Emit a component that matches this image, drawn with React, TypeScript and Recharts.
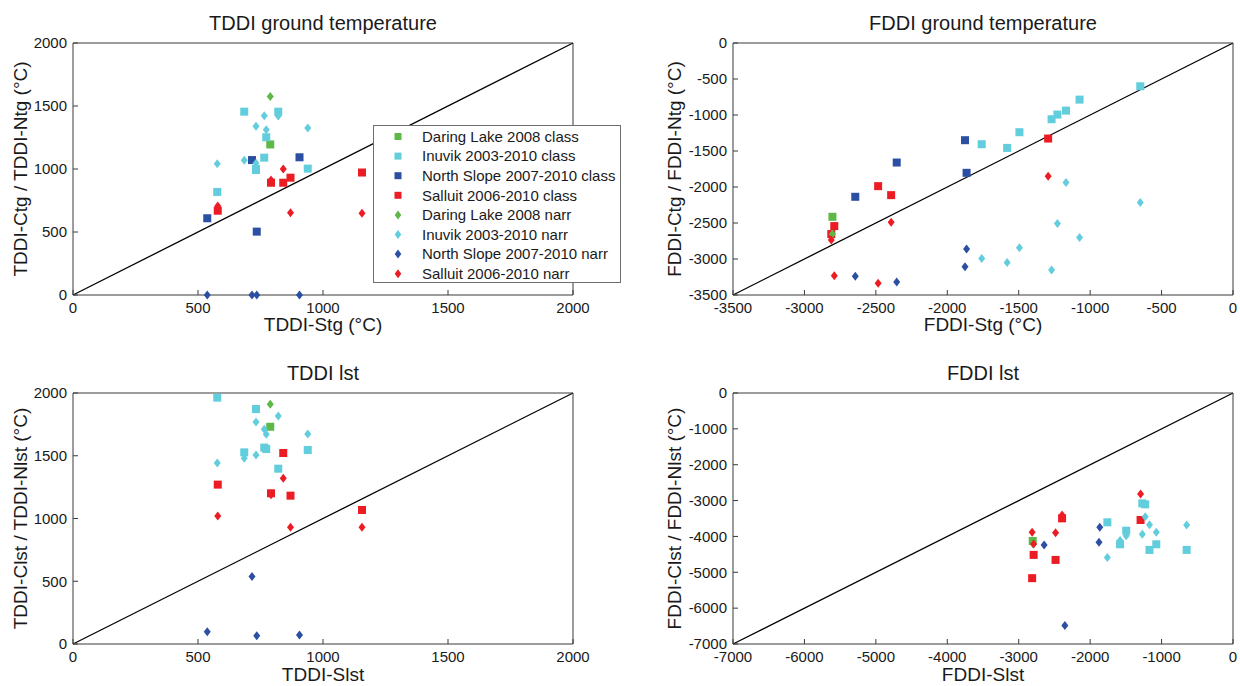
import React from 'react';
import { ScatterChart, Scatter, XAxis, YAxis, ReferenceLine } from 'recharts';

const FONT = '"Liberation Sans", Arial, Helvetica, sans-serif';
const GREEN = '#5db847';
const CYAN = '#62cddc';
const BLUE = '#2b4fa2';
const RED = '#ec1c24';
const AXIS = '#3a3a3a';

// x values (station), shared by the ground and lst panels
const daringTddiS = [789];
const inuvikTddiS = [577, 685, 732, 732, 765, 773, 821, 939];
const northTddiS = [537, 716, 735, 906];
const sallTddiS = [579, 792, 841, 870, 1156];

const daringFddiS = [-2804];
const inuvikFddiS = [-1759, -1581, -1495, -1270, -1229, -1169, -1074, -649];
const northFddiS = [-2644, -2354, -1876, -1865];
const sallFddiS = [-2812, -2791, -2484, -2393, -1294];

// TDDI ground temperature (class = Ctg, narr = Ntg)
const daringTddiCtg = [1195];
const inuvikTddiCtg = [818, 1455, 992, 1000, 1090, 1252, 1455, 1003];
const northTddiCtg = [609, 1071, 503, 1093];
const sallTddiCtg = [669, 891, 891, 931, 972];
const daringTddiNtg = [1575];
const inuvikTddiNtg = [1042, 1069, 1339, 1045, 1423, 1312, 1420, 1325];
const northTddiNtg = [0, 0, 0, 0];
const sallTddiNtg = [706, 913, 1000, 653, 649];

// TDDI lst
const daringTddiClst = [1731];
const inuvikTddiClst = [1963, 1527, 1872, 1872, 1565, 1554, 1397, 1546];
const northTddiClst: (number | null)[] = [null, null, null, null];
const sallTddiClst = [1270, 1201, 1522, 1182, 1068];
const daringTddiNlst = [1910];
const inuvikTddiNlst = [1442, 1480, 1769, 1506, 1711, 1671, 1817, 1673];
const northTddiNlst = [98, 537, 66, 72];
const sallTddiNlst = [1020, 1190, 1320, 930, 930];

// FDDI ground temperature
const daringFddiCtg = [-2414];
const inuvikFddiCtg = [-1406, -1457, -1239, -1059, -994, -939, -786, -601];
const northFddiCtg = [-2136, -1660, -1350, -1803];
const sallFddiCtg = [-2654, -2543, -1988, -2113, -1327];
const daringFddiNtg = [-2654];
const inuvikFddiNtg = [-2992, -3047, -2844, -3154, -2506, -1937, -2700, -2215];
const northFddiNtg = [-3241, -3320, -3107, -2862];
const sallFddiNtg = [-2737, -3232, -3338, -2488, -1850];

// FDDI lst
const daringFddiClst = [-4126];
const inuvikFddiClst = [-3607, -4219, -3839, -3078, -3106, -4376, -4219, -4376];
const northFddiClst: (number | null)[] = [null, null, null, null];
const sallFddiClst = [-5164, -4515, -4655, -3496, -3542];
const daringFddiNlst = [-4200];
const inuvikFddiNlst = [-4590, -4117, -3978, -3941, -3449, -3672, -3885, -3681];
const northFddiNlst = [-4237, -6481, -4163, -3746];
const sallFddiNlst = [-3885, -4209, -3894, -3403, -2819];

const ticks2000 = [0, 500, 1000, 1500, 2000];
const ticks3500 = [-3500, -3000, -2500, -2000, -1500, -1000, -500, 0];
const ticks7000 = [-7000, -6000, -5000, -4000, -3000, -2000, -1000, 0];

const SERIES = [
  { name: 'Daring Lake 2008 class', color: GREEN, marker: 'square' },
  { name: 'Inuvik 2003-2010 class', color: CYAN, marker: 'square' },
  { name: 'North Slope 2007-2010 class', color: BLUE, marker: 'square' },
  { name: 'Salluit 2006-2010 class', color: RED, marker: 'square' },
  { name: 'Daring Lake 2008 narr', color: GREEN, marker: 'diamond' },
  { name: 'Inuvik 2003-2010 narr', color: CYAN, marker: 'diamond' },
  { name: 'North Slope 2007-2010 narr', color: BLUE, marker: 'diamond' },
  { name: 'Salluit 2006-2010 narr', color: RED, marker: 'diamond' },
];

type Pt = { x: number; y: number };
const zip = (xs: number[], ys: (number | null)[]): Pt[] =>
  xs.map((x, i) => ({ x, y: ys[i] })).filter((p) => p.y !== null) as Pt[];

const Square = (props: any) => {
  const { cx, cy, fill } = props;
  return <rect x={cx - 4} y={cy - 4} width={8} height={8} fill={fill} />;
};

const Diamond = (props: any) => {
  const { cx, cy, fill } = props;
  return <polygon points={`${cx},${cy - 4.5} ${cx + 3.5},${cy} ${cx},${cy + 4.5} ${cx - 3.5},${cy}`} fill={fill} />;
};

const tickStyle = { fontSize: 15, fill: '#1a1a1a', fontFamily: FONT };

interface PanelProps {
  left: number;
  top: number;
  height: number;
  margin: { top: number; right: number; bottom: number; left: number };
  domain: [number, number];
  ticks: number[];
  title: string;
  xLabel: string;
  yLabel: string;
  yLabelOffset: number;
  xLabelOffset: number;
  series: Pt[][];
}

// axes are 1px thick so that recharts still draws them; margins are reduced by 1 to compensate
const Panel: React.FC<PanelProps> = (p) => (
  <div style={{ position: 'absolute', left: p.left, top: p.top }}>
    <ScatterChart
      width={620}
      height={p.height}
      margin={{ top: p.margin.top - 1, right: p.margin.right - 1, bottom: p.margin.bottom - 1, left: p.margin.left - 1 }}
    >
      <XAxis
        type="number"
        dataKey="x"
        domain={p.domain}
        ticks={p.ticks}
        height={1}
        tickSize={-5}
        tickMargin={12}
        tick={tickStyle}
        stroke={AXIS}
        interval={0}
        label={{ value: p.xLabel, position: 'bottom', offset: p.xLabelOffset - 1, fontSize: 19, fill: '#1a1a1a', fontFamily: FONT }}
      />
      <YAxis
        type="number"
        dataKey="y"
        domain={p.domain}
        ticks={p.ticks}
        width={1}
        tickSize={-5}
        tickMargin={11}
        tick={tickStyle}
        stroke={AXIS}
        interval={0}
        label={{ value: p.yLabel, position: 'left', angle: -90, offset: p.yLabelOffset - 1, fontSize: 19, fill: '#1a1a1a', fontFamily: FONT, style: { textAnchor: 'middle' } }}
      />
      <XAxis
        xAxisId="top"
        orientation="top"
        type="number"
        domain={p.domain}
        ticks={p.ticks}
        height={1}
        tickSize={-5}
        tick={false}
        stroke={AXIS}
        interval={0}
        label={{ value: p.title, position: 'top', offset: 12, fontSize: 20, fill: '#1a1a1a', fontFamily: FONT }}
      />
      <YAxis
        yAxisId="right"
        orientation="right"
        type="number"
        domain={p.domain}
        ticks={p.ticks}
        width={1}
        tickSize={-5}
        tick={false}
        stroke={AXIS}
        interval={0}
      />
      <ReferenceLine
        segment={[{ x: p.domain[0], y: p.domain[0] }, { x: p.domain[1], y: p.domain[1] }]}
        stroke="#000"
        strokeWidth={1.3}
      />
      {p.series.map((data, i) => (
        <Scatter
          key={SERIES[i].name}
          name={SERIES[i].name}
          data={data}
          fill={SERIES[i].color}
          shape={SERIES[i].marker === 'square' ? Square : Diamond}
          isAnimationActive={false}
        />
      ))}
    </ScatterChart>
  </div>
);

const LegendBox = () => (
  <div
    style={{
      position: 'absolute',
      left: 373,
      top: 125,
      width: 248,
      height: 158,
      boxSizing: 'border-box',
      border: '1px solid #6e6e6e',
      background: '#fff',
    }}
  >
    <svg width={246} height={156}>
      {SERIES.map((s, i) => {
        const cy = 10.5 + i * 19.6;
        return (
          <g key={s.name}>
            {s.marker === 'square' ? (
              <rect x={20.5} y={cy - 3.5} width={7} height={7} fill={s.color} />
            ) : (
              <polygon points={`24,${cy - 4.5} 27.3,${cy} 24,${cy + 4.5} 20.7,${cy}`} fill={s.color} />
            )}
            <text x={48} y={cy + 5.3} fontSize={15} fontFamily={FONT} fill="#1a1a1a">
              {s.name}
            </text>
          </g>
        );
      })}
    </svg>
  </div>
);

export default function App() {
  const tddiGround = [
    zip(daringTddiS, daringTddiCtg),
    zip(inuvikTddiS, inuvikTddiCtg),
    zip(northTddiS, northTddiCtg),
    zip(sallTddiS, sallTddiCtg),
    zip(daringTddiS, daringTddiNtg),
    zip(inuvikTddiS, inuvikTddiNtg),
    zip(northTddiS, northTddiNtg),
    zip(sallTddiS, sallTddiNtg),
  ];
  const fddiGround = [
    zip(daringFddiS, daringFddiCtg),
    zip(inuvikFddiS, inuvikFddiCtg),
    zip(northFddiS, northFddiCtg),
    zip(sallFddiS, sallFddiCtg),
    zip(daringFddiS, daringFddiNtg),
    zip(inuvikFddiS, inuvikFddiNtg),
    zip(northFddiS, northFddiNtg),
    zip(sallFddiS, sallFddiNtg),
  ];
  const tddiLst = [
    zip(daringTddiS, daringTddiClst),
    zip(inuvikTddiS, inuvikTddiClst),
    zip(northTddiS, northTddiClst),
    zip(sallTddiS, sallTddiClst),
    zip(daringTddiS, daringTddiNlst),
    zip(inuvikTddiS, inuvikTddiNlst),
    zip(northTddiS, northTddiNlst),
    zip(sallTddiS, sallTddiNlst),
  ];
  const fddiLst = [
    zip(daringFddiS, daringFddiClst),
    zip(inuvikFddiS, inuvikFddiClst),
    zip(northFddiS, northFddiClst),
    zip(sallFddiS, sallFddiClst),
    zip(daringFddiS, daringFddiNlst),
    zip(inuvikFddiS, inuvikFddiNlst),
    zip(northFddiS, northFddiNlst),
    zip(sallFddiS, sallFddiNlst),
  ];

  return (
    <div style={{ position: 'absolute', left: 0, top: 0, width: 1240, height: 686, background: '#fff', fontFamily: FONT }}>
      <Panel
        left={0}
        top={0}
        height={345}
        margin={{ top: 43, right: 47, bottom: 50, left: 73 }}
        domain={[0, 2000]}
        ticks={ticks2000}
        title="TDDI ground temperature"
        xLabel="TDDI-Stg (°C)"
        yLabel="TDDI-Ctg / TDDI-Ntg (°C)"
        yLabelOffset={53}
        xLabelOffset={23}
        series={tddiGround}
      />
      <Panel
        left={620}
        top={0}
        height={345}
        margin={{ top: 43, right: 7, bottom: 50, left: 113 }}
        domain={[-3500, 0]}
        ticks={ticks3500}
        title="FDDI ground temperature"
        xLabel="FDDI-Stg (°C)"
        yLabel="FDDI-Ctg / FDDI-Ntg (°C)"
        yLabelOffset={59}
        xLabelOffset={23}
        series={fddiGround}
      />
      <Panel
        left={0}
        top={345}
        height={341}
        margin={{ top: 48, right: 47, bottom: 42, left: 73 }}
        domain={[0, 2000]}
        ticks={ticks2000}
        title="TDDI lst"
        xLabel="TDDI-Slst"
        yLabel="TDDI-Clst / TDDI-Nlst (°C)"
        yLabelOffset={53}
        xLabelOffset={24}
        series={tddiLst}
      />
      <Panel
        left={620}
        top={345}
        height={341}
        margin={{ top: 48, right: 7, bottom: 42, left: 113 }}
        domain={[-7000, 0]}
        ticks={ticks7000}
        title="FDDI lst"
        xLabel="FDDI-Slst"
        yLabel="FDDI-Clst / FDDI-Nlst (°C)"
        yLabelOffset={59}
        xLabelOffset={24}
        series={fddiLst}
      />
      <LegendBox />
    </div>
  );
}
